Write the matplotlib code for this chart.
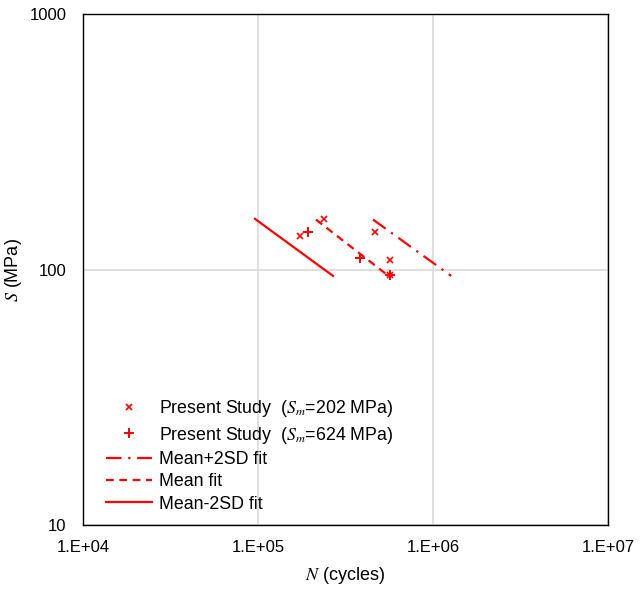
import matplotlib
matplotlib.use("Agg")
import matplotlib.pyplot as plt
import numpy as np
from matplotlib.ticker import FixedLocator, FuncFormatter, NullLocator

plt.rcParams['font.family'] = ['Liberation Sans', 'DejaVu Sans']
plt.rcParams['mathtext.fontset'] = 'stix'

# test data
n_202 = [174000, 238000, 466000, 568000, 568000]
s_202 = [135, 158, 140, 109, 95]
n_624 = [193000, 383000, 568000]
s_624 = [140, 111, 95]

# fit lines (end points)
n_plus2sd = [454000, 1270000]
s_plus2sd = [157, 94.5]
n_mean = [214000, 568000]
s_mean = [157, 93.5]
n_minus2sd = [96000, 268000]
s_minus2sd = [158, 94.5]

fig = plt.figure(figsize=(6.4, 5.9), dpi=100)
ax = fig.add_axes([0.130, 0.110, 0.820, 0.866])

red = '#ff0000'
ax.plot(n_202, s_202, linestyle='none', marker='x', color=red, markersize=5, markeredgewidth=1.2,
        label=r"Present Study  ($S_m$=202 MPa)")
ax.plot(n_624, s_624, linestyle='none', marker='+', color=red, markersize=7, markeredgewidth=1.4,
        label=r"Present Study  ($S_m$=624 MPa)")
ax.plot(n_plus2sd, s_plus2sd, color=red, linewidth=1.6, dashes=(7, 3, 1, 3), label="Mean+2SD fit")
ax.plot(n_mean, s_mean, color=red, linewidth=1.6, dashes=(3.5, 2.5), label="Mean fit")
ax.plot(n_minus2sd, s_minus2sd, color=red, linewidth=1.6, label="Mean-2SD fit")

ax.set_xscale('log')
ax.set_yscale('log')
ax.set_xlim(1e4, 1e7)
ax.set_ylim(10, 1000)

ax.xaxis.set_major_locator(FixedLocator([1e4, 1e5, 1e6, 1e7]))
ax.yaxis.set_major_locator(FixedLocator([10, 100, 1000]))
ax.xaxis.set_minor_locator(NullLocator())
ax.yaxis.set_minor_locator(NullLocator())
ax.xaxis.set_major_formatter(FuncFormatter(lambda v, p: "1.E+%02d" % int(round(np.log10(v)))))
ax.yaxis.set_major_formatter(FuncFormatter(lambda v, p: "%d" % v))
ax.tick_params(axis='both', length=0, labelsize=12)
ax.tick_params(axis='x', pad=11)
ax.tick_params(axis='y', pad=12)

ax.grid(True, color='#d9d9d9', linewidth=1.2)
ax.set_axisbelow(True)
for sp in ax.spines.values():
    sp.set_color('black')
    sp.set_linewidth(1.0)

ax.set_xlabel(r"$N$ (cycles)", fontsize=13, labelpad=7)
ax.set_ylabel(r"$S$ (MPa)", fontsize=13, labelpad=4)

ax.legend(loc='lower left', bbox_to_anchor=(0.02, 0.0), frameon=False, fontsize=12.8,
          handlelength=2.6, handletextpad=0.4, labelspacing=0.3,
          borderaxespad=0.3)

fig.savefig("out.png", dpi=100)
